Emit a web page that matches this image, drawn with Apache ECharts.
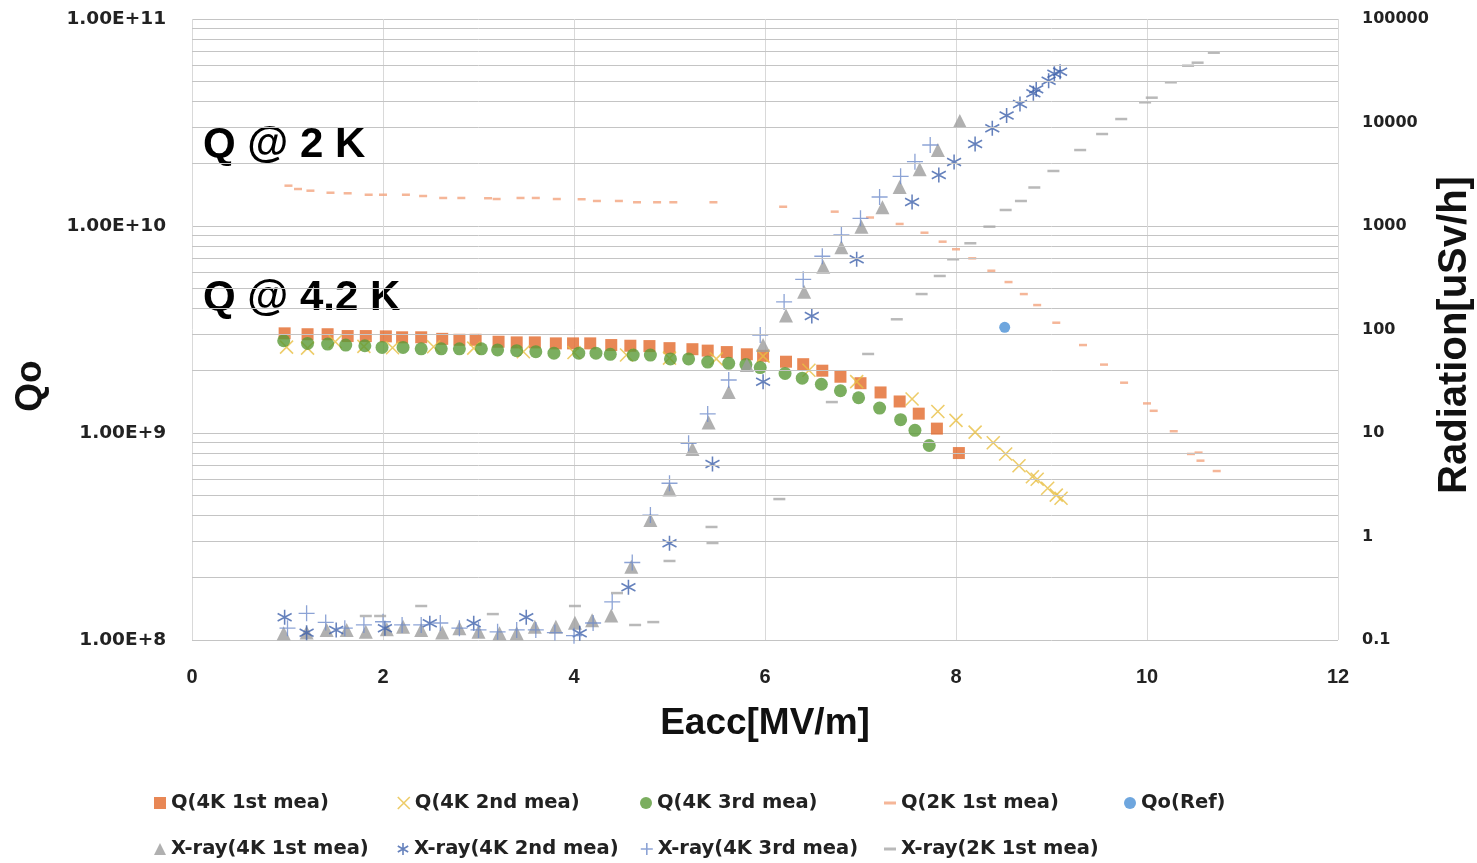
<!DOCTYPE html>
<html><head><meta charset="utf-8">
<script src="https://cdn.jsdelivr.net/npm/echarts@6/dist/echarts.min.js"></script>
<style>html,body{margin:0;padding:0;background:#fff}#c{width:1477px;height:863px}</style>
</head><body><div id="c"></div>
<script>
// ---- data ----
const q4k1E = [0.97,1.21,1.42,1.63,1.82,2.03,2.2,2.4,2.62,2.8,2.97,3.21,3.4,3.59,3.81,3.99,4.17,4.39,4.59,4.79,5.0,5.24,5.4,5.6,5.81,5.98,6.22,6.4,6.6,6.79,7.0,7.21,7.41,7.61,7.8,8.03];
const q4k1Q = [3.03e9,3.0e9,3.0e9,2.94e9,2.94e9,2.93e9,2.9e9,2.9e9,2.85e9,2.82e9,2.82e9,2.76e9,2.74e9,2.74e9,2.71e9,2.71e9,2.71e9,2.66e9,2.64e9,2.63e9,2.57e9,2.54e9,2.5e9,2.46e9,2.4e9,2.36e9,2.21e9,2.15e9,2.0e9,1.87e9,1.74e9,1.57e9,1.42e9,1.24e9,1.05e9,8.0e8];

const q4k2E = [0.99,1.21,1.5,1.8,2.1,2.53,2.95,3.47,4.0,4.55,5.0,5.49,5.98,6.46,6.96,7.54,7.81,8.0,8.2,8.39,8.52,8.66,8.8,8.85,8.96,9.05,9.1];
const q4k2Q = [2.6e9,2.57e9,2.76e9,2.62e9,2.58e9,2.61e9,2.57e9,2.47e9,2.45e9,2.38e9,2.3e9,2.28e9,2.35e9,2.01e9,1.77e9,1.46e9,1.27e9,1.15e9,1.01e9,8.97e8,7.92e8,6.95e8,6.15e8,5.98e8,5.41e8,5.01e8,4.84e8];

const q4k3E = [0.96,1.21,1.42,1.61,1.81,1.99,2.21,2.4,2.61,2.8,3.03,3.2,3.4,3.6,3.79,4.05,4.23,4.38,4.62,4.8,5.01,5.2,5.4,5.62,5.8,5.95,6.21,6.39,6.59,6.79,6.98,7.2,7.42,7.57,7.72];
const q4k3Q = [2.79e9,2.71e9,2.69e9,2.66e9,2.64e9,2.59e9,2.59e9,2.55e9,2.55e9,2.55e9,2.55e9,2.52e9,2.5e9,2.47e9,2.43e9,2.43e9,2.43e9,2.4e9,2.38e9,2.38e9,2.28e9,2.28e9,2.2e9,2.17e9,2.14e9,2.07e9,1.94e9,1.84e9,1.72e9,1.6e9,1.48e9,1.32e9,1.16e9,1.03e9,8.7e8];

const q2kE = [1.01,1.11,1.24,1.45,1.63,1.85,2.0,2.24,2.42,2.63,2.82,3.1,3.19,3.44,3.6,3.82,4.08,4.24,4.47,4.66,4.87,5.04,5.46,6.19,6.73,7.1,7.41,7.67,7.86,8.0,8.17,8.37,8.55,8.71,8.85,9.05,9.33,9.55,9.76,10.0,10.07,10.28,10.46,10.54,10.56,10.73];
const q2kQ = [1.566e10,1.509e10,1.481e10,1.448e10,1.439e10,1.416e10,1.416e10,1.416e10,1.396e10,1.366e10,1.366e10,1.362e10,1.35e10,1.366e10,1.366e10,1.35e10,1.347e10,1.321e10,1.321e10,1.302e10,1.302e10,1.302e10,1.302e10,1.239e10,1.173e10,1.099e10,1.023e10,9.28e9,8.4e9,7.72e9,6.98e9,6.08e9,5.36e9,4.69e9,4.15e9,3.41e9,2.66e9,2.14e9,1.75e9,1.39e9,1.28e9,1.02e9,7.92e8,8.04e8,7.35e8,6.55e8];

const refE = [8.51];
const refQ = [3.24e9];

const x4k1E = [0.96,1.2,1.41,1.62,1.82,2.04,2.21,2.4,2.62,2.8,3.0,3.22,3.4,3.59,3.81,4.01,4.19,4.39,4.6,4.8,5.0,5.24,5.41,5.62,5.81,5.98,6.22,6.41,6.61,6.8,7.01,7.23,7.41,7.62,7.81,8.04];
const x4k1R = [0.116,0.118,0.125,0.125,0.12,0.127,0.134,0.125,0.118,0.13,0.12,0.116,0.116,0.134,0.134,0.147,0.155,0.1725,0.511,1.44,2.85,7.0,12.6,24.9,45.4,70.8,136.5,232,404,622,985,1520,2382,3530,5420,10340];

const x4k2E = [0.97,1.2,1.51,2.02,2.49,2.95,3.5,4.06,4.57,5.0,5.45,5.98,6.49,6.96,7.54,7.82,7.98,8.2,8.38,8.53,8.67,8.81,8.84,8.97,9.03,9.09];
const x4k2R = [0.166,0.1175,0.125,0.13,0.145,0.145,0.166,0.116,0.323,0.859,5.01,31.3,135,478,1706,3110,4150,6200,8790,11690,15090,19150,20930,25340,29620,30960];

const x4k3E = [1.0,1.2,1.4,1.6,1.8,2.0,2.2,2.4,2.6,2.8,3.0,3.2,3.4,3.6,3.8,4.0,4.2,4.4,4.61,4.8,5.0,5.2,5.4,5.62,5.95,6.2,6.4,6.6,6.8,7.0,7.2,7.42,7.57,7.73];
const x4k3R = [0.13,0.181,0.148,0.13,0.14,0.15,0.14,0.14,0.146,0.13,0.125,0.12,0.125,0.125,0.118,0.11,0.146,0.234,0.561,1.61,3.27,7.95,15.3,32.5,88.5,184.5,305.5,510,819,1187,1906,3020,4180,6060];

const x2kE = [1.82,1.97,2.4,3.15,4.01,4.45,4.64,4.83,5.0,5.44,5.45,6.15,6.7,7.08,7.38,7.64,7.83,7.97,8.15,8.35,8.52,8.68,8.82,9.02,9.3,9.53,9.73,9.98,10.05,10.25,10.43,10.53,10.7];
const x2kR = [0.1706,0.1706,0.213,0.178,0.213,0.284,0.1396,0.149,0.58,1.236,0.865,2.3,19.9,58,125.5,220,329,477,681,985,1428,1744,2355,3400,5420,7740,10800,15670,17370,24460,35370,37830,47230];

const xTicks = {min: 0, max: 12, interval: 2};
const qAxisRange = {min: 1e8, max: 1e11};
const rAxisRange = {min: 0.1, max: 100000};
const minorFactors = [2,3,4,5,6,7,8,9];
const decadesQ = [1e8,1e9,1e10];

// ---- build ----
const zip = (a, b) => a.map((v, i) => [v, b[i]]);
const SANS = "'Liberation Sans', Arial, sans-serif";
const WIDE = "'DejaVu Sans', Verdana, sans-serif";
const P_X = 'path://M0 0 L10 10 M0 10 L10 0';
const P_PLUS = 'path://M5 0 L5 10 M0 5 L10 5';
const P_STAR = 'path://M5 0 L5 10 M0.67 2.5 L9.33 7.5 M0.67 7.5 L9.33 2.5';
const P_DASH = 'path://M0 0 L10 0 L10 2.5 L0 2.5 Z';

const C = {
  q1: '#E2692A', q2: '#E8BF44', q3: '#5A9A37', q2k: '#F2A47E', ref: '#4A90D6',
  x1: '#9C9C9C', x2: '#3F62AB', x3: '#6F8CCB', x2k: '#A8A8A8'
};

const minorLines = [];
decadesQ.forEach(d => minorFactors.forEach(f => minorLines.push({yAxis: d * f})));

const strokeStyle = c => ({color: 'rgba(0,0,0,0)', borderColor: c, borderWidth: 1.6});

const series = [
  {type: 'scatter', name: '_grid', yAxisIndex: 0, data: [], silent: true, z: 0,
   markLine: {silent: true, symbol: ['none','none'], label: {show: false}, animation: false,
     lineStyle: {color: '#c4c4c4', type: 'solid', width: 1}, data: minorLines}},
  {type: 'scatter', name: 'Q(4K 1st mea)', yAxisIndex: 0, data: zip(q4k1E, q4k1Q), symbol: 'rect', symbolSize: 12, itemStyle: {color: C.q1}},
  {type: 'scatter', name: 'Q(4K 2nd mea)', yAxisIndex: 0, data: zip(q4k2E, q4k2Q), symbol: P_X, symbolSize: 13, itemStyle: strokeStyle(C.q2)},
  {type: 'scatter', name: 'Q(4K 3rd mea)', yAxisIndex: 0, data: zip(q4k3E, q4k3Q), symbol: 'circle', symbolSize: 13, itemStyle: {color: C.q3}},
  {type: 'scatter', name: 'Q(2K 1st mea)', yAxisIndex: 0, data: zip(q2kE, q2kQ), symbol: 'rect', symbolSize: [8, 2.5], itemStyle: {color: C.q2k}},
  {type: 'scatter', name: 'Qo(Ref)', yAxisIndex: 0, data: zip(refE, refQ), symbol: 'circle', symbolSize: 11, itemStyle: {color: C.ref}},
  {type: 'scatter', name: 'X-ray(4K 1st mea)', yAxisIndex: 1, data: zip(x4k1E, x4k1R), symbol: 'triangle', symbolSize: 14, itemStyle: {color: C.x1}},
  {type: 'scatter', name: 'X-ray(4K 2nd mea)', yAxisIndex: 1, data: zip(x4k2E, x4k2R), symbol: P_STAR, symbolSize: [14, 15], itemStyle: strokeStyle(C.x2)},
  {type: 'scatter', name: 'X-ray(4K 3rd mea)', yAxisIndex: 1, data: zip(x4k3E, x4k3R), symbol: P_PLUS, symbolSize: 16, itemStyle: {color: 'rgba(0,0,0,0)', borderColor: C.x3, borderWidth: 1.3}},
  {type: 'scatter', name: 'X-ray(2K 1st mea)', yAxisIndex: 1, data: zip(x2kE, x2kR), symbol: 'rect', symbolSize: [12, 2.5], itemStyle: {color: C.x2k}}
];
series.forEach(s => { s.animation = false; });

// legend: one component per entry, laid out on a 5 x 2 grid like the reference
const legendText = {fontFamily: WIDE, fontWeight: 'bold', fontSize: 19.5, color: '#222'};
const legendCols = [149, 392, 635, 879, 1119];
const legendRows = [788, 834];
const legendItems = [
  [0, 0, {name: 'Q(4K 1st mea)', icon: 'rect'}],
  [1, 0, {name: 'Q(4K 2nd mea)', icon: P_X, itemStyle: strokeStyle(C.q2)}],
  [2, 0, {name: 'Q(4K 3rd mea)', icon: 'circle'}],
  [3, 0, {name: 'Q(2K 1st mea)', icon: P_DASH}],
  [4, 0, {name: 'Qo(Ref)', icon: 'circle'}],
  [0, 1, {name: 'X-ray(4K 1st mea)', icon: 'triangle'}],
  [1, 1, {name: 'X-ray(4K 2nd mea)', icon: P_STAR, itemStyle: strokeStyle(C.x2)}],
  [2, 1, {name: 'X-ray(4K 3rd mea)', icon: P_PLUS, itemStyle: strokeStyle(C.x3)}],
  [3, 1, {name: 'X-ray(2K 1st mea)', icon: P_DASH}]
];
const legends = legendItems.map(([c, r, item]) => ({
  left: legendCols[c], top: legendRows[r], itemWidth: 12, itemHeight: 12, itemGap: 0,
  textStyle: legendText, selectedMode: false, symbolKeepAspect: true, data: [item]
}));

const chart = echarts.init(document.getElementById('c'), null, {renderer: 'canvas'});
chart.setOption({
  backgroundColor: '#fff',
  animation: false,
  grid: {left: 192, right: 139, top: 19, bottom: 223, containLabel: false},
  xAxis: {type: 'value', min: xTicks.min, max: xTicks.max, interval: xTicks.interval,
    axisLine: {show: false}, axisTick: {show: false},
    splitLine: {show: true, lineStyle: {color: '#d9d9d9', width: 1}},
    axisLabel: {margin: 27, fontFamily: SANS, fontWeight: 'bold', fontSize: 20, color: '#222'}},
  yAxis: [
    {type: 'log', logBase: 10, min: qAxisRange.min, max: qAxisRange.max,
     axisLine: {show: false}, axisTick: {show: false},
     splitLine: {show: true, lineStyle: {color: '#c4c4c4', width: 1}},
     axisLabel: {margin: 26, fontFamily: WIDE, fontWeight: 'bold', fontSize: 18.5, color: '#222',
       formatter: v => Number(v).toExponential(2).toUpperCase()}},
    {type: 'log', logBase: 10, min: rAxisRange.min, max: rAxisRange.max, position: 'right',
     axisLine: {show: false}, axisTick: {show: false}, splitLine: {show: false},
     axisLabel: {margin: 24, fontFamily: WIDE, fontWeight: 'bold', fontSize: 16, color: '#222',
       formatter: v => (v < 1 ? Number(v).toFixed(1) : String(Math.round(v)))}}
  ],
  legend: legends,
  graphic: [
    {type: 'text', left: 203, top: 124, style: {text: 'Q @ 2 K', font: "bold 42px 'Liberation Sans', Arial, sans-serif", fill: '#000'}},
    {type: 'text', left: 203, top: 277, style: {text: 'Q @ 4.2 K', font: "bold 42px 'Liberation Sans', Arial, sans-serif", fill: '#000'}},
    {type: 'text', x: 31, y: 386, rotation: Math.PI / 2, style: {text: 'Qo', font: "bold 37px 'Liberation Sans', Arial, sans-serif", fill: '#111', align: 'center', verticalAlign: 'middle'}},
    {type: 'text', x: 1455, y: 335, rotation: Math.PI / 2, style: {text: 'Radiation[uSv/h]', font: "bold 40px 'Liberation Sans', Arial, sans-serif", fill: '#111', align: 'center', verticalAlign: 'middle'}},
    {type: 'text', x: 765, y: 724, style: {text: 'Eacc[MV/m]', font: "bold 37px 'Liberation Sans', Arial, sans-serif", fill: '#111', align: 'center', verticalAlign: 'middle'}}
  ],
  series: series
});
</script></body></html>
